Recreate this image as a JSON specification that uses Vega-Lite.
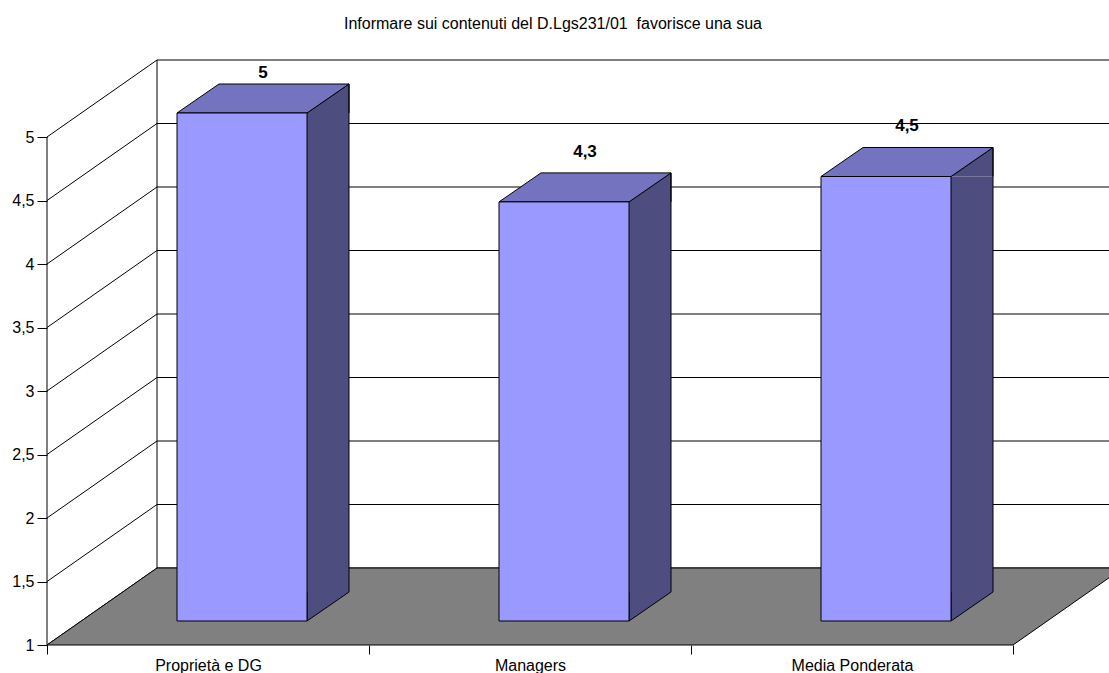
{
  "$schema": "https://vega.github.io/schema/vega-lite/v6.json",
  "width": 952,
  "height": 508,
  "autosize": {"type": "none"},
  "padding": {"left": 157, "top": 60, "right": 0, "bottom": 105},
  "background": "white",
  "config": {
    "view": {"stroke": null},
    "font": "Liberation Sans",
    "locale": {"number": {"decimal": ",", "thousands": ".", "grouping": [3], "currency": ["€", ""]}}
  },
  "title": {
    "text": "Informare sui contenuti del D.Lgs231/01\u00a0 favorisce una sua",
    "font": "Liberation Sans",
    "fontSize": 16,
    "fontWeight": "normal",
    "color": "black",
    "anchor": "middle",
    "frame": "group",
    "baseline": "alphabetic",
    "dx": -80,
    "offset": 15
  },
  "datasets": {
    "punteggi": [
      {"gruppo": "Proprietà e DG", "punteggio": 5},
      {"gruppo": "Managers", "punteggio": 4.3},
      {"gruppo": "Media Ponderata", "punteggio": 4.5}
    ],
    "livelli": [
      {"livello": 1}, {"livello": 1.5}, {"livello": 2}, {"livello": 2.5}, {"livello": 3},
      {"livello": 3.5}, {"livello": 4}, {"livello": 4.5}, {"livello": 5}
    ]
  },
  "resolve": {"scale": {"y": "independent"}},
  "layer": [
    {
      "layer": [
        {
          "data": {"name": "livelli"},
          "mark": {"type": "rule", "color": "black", "strokeWidth": 1},
          "encoding": {
            "y": {"field": "livello", "type": "quantitative", "scale": {"domain": [1, 5], "zero": false, "nice": false}}
          }
        },
        {
          "data": {"name": "livelli"},
          "mark": {"type": "rule", "color": "black", "strokeWidth": 1, "xOffset": -110, "yOffset": 77},
          "encoding": {
            "x": {"datum": "Proprietà e DG", "bandPosition": 0, "scale": {"type": "band", "domain": ["Proprietà e DG", "Managers", "Media Ponderata"], "range": [0, 966], "paddingInner": 0, "paddingOuter": 0}},
            "x2": {"datum": "Proprietà e DG", "bandPosition": 0},
            "y": {"field": "livello", "type": "quantitative"},
            "y2": {"field": "livello"}
          }
        },
        {
          "data": {"values": [{}]},
          "mark": {"type": "rule", "color": "black", "strokeWidth": 1},
          "encoding": {
            "x": {"datum": "Proprietà e DG", "bandPosition": 0},
            "y": {"datum": 5, "type": "quantitative"},
            "y2": {"datum": 1}
          }
        },
        {
          "data": {"values": [{}]},
          "mark": {"type": "rule", "color": "black", "strokeWidth": 1, "xOffset": -110, "yOffset": 77, "y2Offset": 77},
          "encoding": {
            "x": {"datum": "Proprietà e DG", "bandPosition": 0},
            "y": {"datum": 5, "type": "quantitative"},
            "y2": {"datum": 1}
          }
        },
        {
          "data": {"values": [{}]},
          "mark": {"type": "point", "shape": "M0,0L966,0L856,77L-110,77Z", "size": 4, "filled": true, "fill": "#808080", "stroke": "black", "strokeWidth": 1, "opacity": 1},
          "encoding": {
            "x": {"datum": "Proprietà e DG", "bandPosition": 0},
            "y": {"datum": 1, "type": "quantitative"}
          }
        },
        {
          "data": {"name": "punteggi"},
          "mark": {"type": "bar", "width": 42, "xOffset": 10, "yOffset": 53, "y2Offset": 24, "fill": "#4D4D80", "strokeWidth": 0},
          "encoding": {
            "x": {"field": "gruppo", "type": "nominal"},
            "y": {"field": "punteggio", "type": "quantitative"},
            "y2": {"datum": 1}
          }
        },
        {
          "data": {"name": "punteggi"},
          "mark": {"type": "point", "shape": "M0,0L42,-29L42,0", "size": 4, "filled": true, "fill": "#4D4D80", "stroke": "black", "strokeWidth": 1, "opacity": 1, "xOffset": -11, "yOffset": 53},
          "encoding": {
            "x": {"field": "gruppo", "type": "nominal", "bandPosition": 0.5},
            "y": {"field": "punteggio", "type": "quantitative"}
          }
        },
        {
          "data": {"name": "punteggi"},
          "mark": {"type": "point", "shape": "M0,-29L0,0L42,-29", "size": 4, "filled": true, "fill": "#4D4D80", "stroke": "black", "strokeWidth": 1, "opacity": 1, "xOffset": -11, "yOffset": 53},
          "encoding": {
            "x": {"field": "gruppo", "type": "nominal", "bandPosition": 0.5},
            "y": {"datum": 1, "type": "quantitative"}
          }
        },
        {
          "data": {"name": "punteggi"},
          "mark": {"type": "rule", "color": "black", "strokeWidth": 1, "xOffset": 31, "yOffset": 24, "y2Offset": 24},
          "encoding": {
            "x": {"field": "gruppo", "type": "nominal", "bandPosition": 0.5},
            "y": {"field": "punteggio", "type": "quantitative"},
            "y2": {"datum": 1}
          }
        },
        {
          "data": {"name": "punteggi"},
          "mark": {"type": "point", "shape": "M-65,0L65,0L107,-29L-23,-29Z", "size": 4, "filled": true, "fill": "#7373BF", "stroke": "black", "strokeWidth": 1, "opacity": 1, "xOffset": -76, "yOffset": 53},
          "encoding": {
            "x": {"field": "gruppo", "type": "nominal", "bandPosition": 0.5},
            "y": {"field": "punteggio", "type": "quantitative"}
          }
        },
        {
          "data": {"name": "punteggi"},
          "mark": {"type": "bar", "width": 130, "xOffset": -76, "yOffset": 53, "y2Offset": 53, "fill": "#9999FF", "stroke": "black", "strokeWidth": 1},
          "encoding": {
            "x": {
              "field": "gruppo",
              "type": "nominal",
              "axis": {
                "orient": "bottom",
                "offset": 77,
                "tickOffset": -110,
                "bandPosition": 1,
                "tickExtra": true,
                "domain": false,
                "grid": false,
                "tickSize": 9,
                "tickColor": "black",
                "labelAngle": 0,
                "labelAlign": "center",
                "labelBaseline": "top",
                "labelPadding": 3,
                "labelFont": "Liberation Sans",
                "labelFontSize": 16,
                "labelColor": "black",
                "title": null
              }
            },
            "y": {
              "field": "punteggio",
              "type": "quantitative",
              "axis": {
                "orient": "left",
                "offset": 110,
                "tickOffset": 77,
                "domain": false,
                "grid": false,
                "values": [1, 1.5, 2, 2.5, 3, 3.5, 4, 4.5, 5],
                "format": ".1~f",
                "tickSize": 10,
                "tickColor": "black",
                "labelAlign": "right",
                "labelBaseline": "middle",
                "labelPadding": 3,
                "labelFont": "Liberation Sans",
                "labelFontSize": 16,
                "labelColor": "black",
                "title": null
              }
            },
            "y2": {"datum": 1}
          }
        }
      ]
    },
    {
      "data": {"name": "punteggi"},
      "mark": {"type": "text", "font": "Liberation Sans", "fontSize": 17, "fontWeight": "bold", "color": "black", "align": "center", "baseline": "middle", "xOffset": -55, "yOffset": 13},
      "encoding": {
        "x": {"field": "gruppo", "type": "nominal", "bandPosition": 0.5},
        "y": {"field": "punteggio", "type": "quantitative", "scale": {"domain": [1, 4.91], "zero": false, "nice": false, "clamp": true}, "axis": null},
        "text": {"field": "punteggio", "type": "quantitative", "format": ".1~f"}
      }
    }
  ]
}
